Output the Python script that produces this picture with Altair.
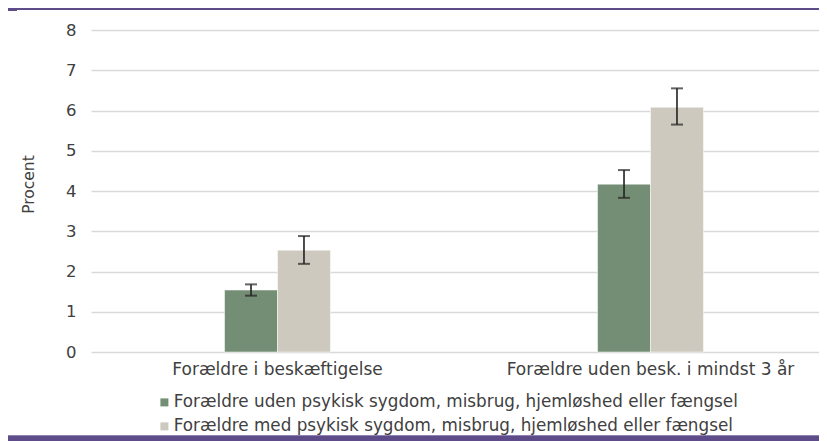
import altair as alt
import pandas as pd

categories = ["Forældre i beskæftigelse", "Forældre uden besk. i mindst 3 år"]
series = [
    "Forældre uden psykisk sygdom, misbrug, hjemløshed eller fængsel",
    "Forældre med psykisk sygdom, misbrug, hjemløshed eller fængsel",
]
values_without = [1.54, 4.17]
values_with = [2.53, 6.08]
lo_without = [1.40, 3.83]
hi_without = [1.68, 4.52]
lo_with = [2.19, 5.65]
hi_with = [2.88, 6.55]
colors = ["#748e75", "#cdc9bf"]
y_ticks = [0, 1, 2, 3, 4, 5, 6, 7, 8]

rows = []
for i, c in enumerate(categories):
    rows.append({"cat": c, "series": series[0], "value": values_without[i], "lo": lo_without[i], "hi": hi_without[i]})
    rows.append({"cat": c, "series": series[1], "value": values_with[i], "lo": lo_with[i], "hi": hi_with[i]})
df = pd.DataFrame(rows)

W, H = 728, 322
FONT = "DejaVu Sans"
TXT = "#404040"
PURPLE = "#5e4b8a"

x_enc = alt.X("cat:N", sort=categories,
              scale=alt.Scale(range=[0, 746], paddingInner=0.716, paddingOuter=0.358),
              axis=alt.Axis(title=None, labelAngle=0, labelFontSize=17, labelColor=TXT,
                            labelFont=FONT, labelPadding=9, labelLimit=500,
                            domain=False, ticks=False, grid=False))
xo_enc = alt.XOffset("series:N", sort=series)
y_scale = alt.Scale(domain=[0, 8])
y_axis = alt.Axis(title="Procent", values=y_ticks,
                  labelFontSize=16.5, labelColor=TXT, labelFont=FONT, labelPadding=15,
                  domain=False, ticks=False, gridColor="#d9d9d9", gridWidth=1.5,
                  titleFontSize=15.5, titleFontWeight="normal", titleColor=TXT,
                  titleFont=FONT, titleAngle=-90, titleX=-63, titleY=154,
                  titleAlign="center", titleBaseline="middle")

base = alt.Chart(df)

bars = base.mark_bar(stroke="white", strokeWidth=0.5).encode(
    x=x_enc,
    xOffset=xo_enc,
    y=alt.Y("value:Q", scale=y_scale, axis=y_axis),
    color=alt.Color("series:N", sort=series, scale=alt.Scale(domain=series, range=colors),
                    legend=alt.Legend(title=None, orient="none", legendX=65, legendY=364,
                                      direction="vertical", symbolType="square",
                                      symbolSize=64, symbolStrokeWidth=0, labelFontSize=16.8,
                                      labelColor=TXT, labelFont=FONT, labelOffset=1,
                                      rowPadding=6, padding=0, labelLimit=800)),
)

err = base.mark_rule(color="#222222", strokeWidth=1.6).encode(
    x=x_enc, xOffset=xo_enc,
    y=alt.Y("lo:Q", scale=y_scale, axis=y_axis), y2="hi:Q",
)
cap_lo = base.mark_tick(color="#222222", thickness=2, size=12).encode(
    x=x_enc, xOffset=xo_enc, y=alt.Y("lo:Q", scale=y_scale, axis=y_axis))
cap_hi = base.mark_tick(color="#222222", thickness=2, size=12).encode(
    x=x_enc, xOffset=xo_enc, y=alt.Y("hi:Q", scale=y_scale, axis=y_axis))

top_line = alt.Chart(df).mark_rule(color=PURPLE, strokeWidth=2).encode(
    x=alt.value(-83), x2=alt.value(W), y=alt.value(-21))
top_tab = alt.Chart(df).mark_rule(color=PURPLE, strokeWidth=3).encode(
    x=alt.value(-83), x2=alt.value(-74), y=alt.value(-20.5))
bottom_line = alt.Chart(df).mark_rule(color=PURPLE, strokeWidth=5.5).encode(
    x=alt.value(-83), x2=alt.value(W), y=alt.value(408.5))

chart = alt.layer(bars, err, cap_lo, cap_hi, top_line, top_tab, bottom_line).properties(
    width=W, height=H,
    autosize=alt.AutoSizeParams(type="none"),
    padding={"left": 83, "top": 22, "right": 0, "bottom": 89},
).configure(font=FONT).configure_view(stroke=None)

chart.save("out.html", embed_options={"renderer": "svg", "actions": False})
